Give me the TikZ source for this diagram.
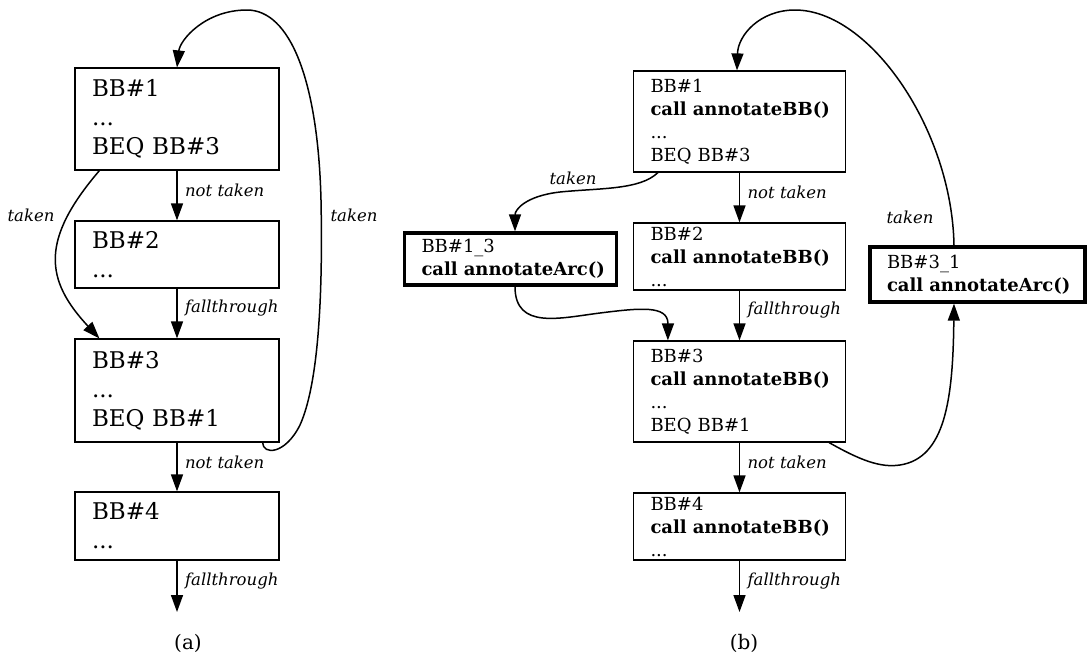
\documentclass[tikz,border=0pt]{standalone}
\usepackage{fontspec}
\setmainfont{DejaVu Serif}
\usetikzlibrary{arrows.meta,positioning,calc}
\newcommand{\annot}[1]{\mbox{\bfseries call #1()}}
\begin{document}
\begin{tikzpicture}[x=1pt,y=-1pt,
  bb/.style={draw,line width=1.2pt,inner xsep=17pt,inner ysep=0pt,align=left,minimum height=#1},
  bba/.style={bb=#1,text width=170pt,font=\fontsize{23}{29}\selectfont},
  bbb/.style={bb=#1,text width=178pt,font=\fontsize{18}{23}\selectfont},
  arcbox/.style={line width=3.3pt},
  flow/.style={line width=1.5pt,-{Triangle[length=17pt,width=12pt]}},
  lab/.style={font=\fontsize{16.5}{20}\selectfont\itshape},
  capt/.style={font=\fontsize{20}{24}\selectfont}]
\useasboundingbox (0,0) rectangle (1087,657);
% (a) plain blocks
\node[bba=102pt] (a1) at (177,119) {BB\#1\\...\\BEQ BB\#3};
\node[bba=67pt] (a2) at (177,254.5) {BB\#2\\...};
\node[bba=103pt] (a3) at (177,390.5) {BB\#3\\...\\BEQ BB\#1};
\node[bba=68pt] (a4) at (177,526) {BB\#4\\...};
\coordinate (aend) at (177,612);
\draw[flow] (a1) -- node[lab,right,pos=.4,xshift=4pt]{not taken} (a2);
\draw[flow] (a2) -- node[lab,right,pos=.4,xshift=4pt]{fallthrough} (a3);
\draw[flow] (a3) -- node[lab,right,pos=.4,xshift=4pt]{not taken} (a4);
\draw[flow] (a4) -- node[lab,right,pos=.4,xshift=4pt]{fallthrough} (aend);
\draw[flow] ($(a1.south west)+(25,0)$) .. controls (40,240) and (45,280) .. ($(a3.north west)+(25,0)$);
\draw[flow] ($(a3.south east)+(-17,0)$) .. controls (263,455) and (285,455) .. (300,425)
  .. controls (318,385) and (323,300) .. (321,200) .. controls (318,80) and (290,10) .. (247,10)
  .. controls (205,10) and (180,40) .. (a1.north);
\node[lab] (tka) at (31,215) {taken};
\node[lab] (tkb) at (354,215) {taken};
\node[capt] (capa) at (188,643) {(a)};
% (b) instrumented blocks
\node[bbb=101pt] (b1) at (739.5,121.5) {BB\#1\\\annot{annotateBB}\\...\\BEQ BB\#3};
\node[bbb=67pt] (b2) at (739.5,256.5) {BB\#2\\\annot{annotateBB}\\...};
\node[bbb=101pt] (b3) at (739.5,391.5) {BB\#3\\\annot{annotateBB}\\...\\BEQ BB\#1};
\node[bbb=67pt] (b4) at (739.5,526.5) {BB\#4\\\annot{annotateBB}\\...};
\node[bbb=52pt,arcbox] (b13) at (510.5,259) {BB\#1\_3\\\annot{annotateArc}};
\node[bbb=55pt,arcbox,text width=181pt] (b31) at (977.5,274.5) {BB\#3\_1\\\annot{annotateArc}};
\coordinate (bend) at (739.5,612);
\draw[flow] (b1) -- node[lab,right,pos=.4,xshift=4pt]{not taken} (b2);
\draw[flow] (b2) -- node[lab,right,pos=.4,xshift=4pt]{fallthrough} (b3);
\draw[flow] (b3) -- node[lab,right,pos=.4,xshift=4pt]{not taken} (b4);
\draw[flow] (b4) -- node[lab,right,pos=.4,xshift=4pt]{fallthrough} (bend);
\draw[flow] ($(b1.south west)+(25,0)$) .. controls (640,190) and (600,188) .. (560,192)
  .. controls (525,196) and (515,210) .. ($(b13.north)+(4.5,0)$);
\draw[flow] ($(b13.south)+(4.5,0)$) .. controls (515,330) and (560,318) .. (600,313)
  .. controls (640,308) and (668,305) .. ($(b3.north west)+(35,0)$);
\draw[flow] ($(b3.south east)+(-17,0)$) .. controls (860,460) and (880,468) .. (900,465)
  .. controls (945,458) and (953,400) .. ($(b31.south)+(-23.5,0)$);
\draw[flow] ($(b31.north)+(-23.5,0)$) .. controls (952,130) and (870,10) .. (795,10)
  .. controls (760,10) and (738,35) .. ($(b1.north)+(-2.5,0)$);
\node[lab] (tkc) at (573,178) {taken};
\node[lab] (tkd) at (910,217) {taken};
\node[capt] (capb) at (744,643) {(b)};
\end{tikzpicture}
\end{document}
